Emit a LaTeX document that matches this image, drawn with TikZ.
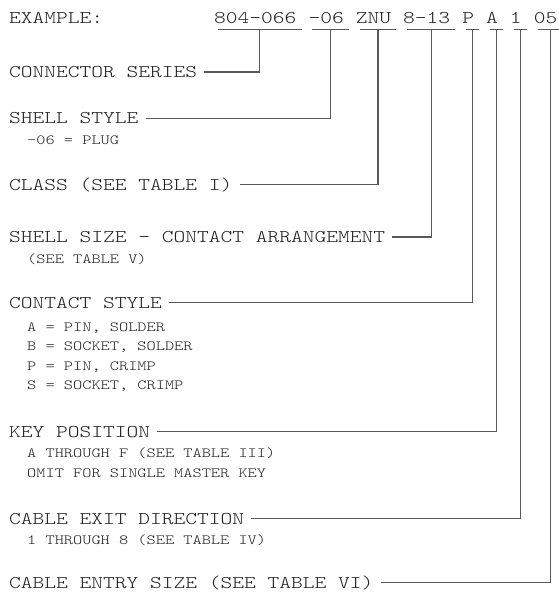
\documentclass[tikz,border=0pt]{standalone}
\usepackage{fontspec}
\newfontfamily\partfont{lmmonolt10-regular.otf}[FakeStretch=1.25]
\usetikzlibrary{positioning,calc}

\tikzset{
  partlabel/.style={anchor=west, inner sep=0pt, text height=11bp, text depth=0pt,
    text=black!88, font=\partfont\fontsize{17.9bp}{20bp}\selectfont},
  partnote/.style={partlabel, text height=8.6bp,
    font=\partfont\fontsize{14bp}{16bp}\selectfont},
  partcode/.style={partlabel},
  leader/.style={draw=black!65, line width=1.1bp},
}

\begin{document}
\begin{tikzpicture}[x=1bp, y=-1bp, node distance=11.7bp]
  \useasboundingbox (0,0) rectangle (559,592);

  % example part number
  \node[partlabel] (example) at (9,18.5) {EXAMPLE:};
  \node[partcode] (series)  at (214,18.5) {804-066};
  \node[partcode, right=of series]  (shell)   {-06};
  \node[partcode, right=of shell]   (class)   {ZNU};
  \node[partcode, right=of class]   (size)    {8-13};
  \node[partcode, right=of size]    (contact) {P};
  \node[partcode, right=of contact] (key)     {A};
  \node[partcode, right=of key]     (exit)    {1};
  \node[partcode, right=of exit]    (entry)   {05};

  \foreach \seg in {series,shell,class,size,contact,key,exit,entry}
    \draw[leader] ([xshift=4bp,yshift=-5.5bp]\seg.south west)
      -- coordinate (\seg-u) ([xshift=5bp,yshift=-5.5bp]\seg.south east);

  % fields
  \node[partlabel] (series-lab)  at (9,72)    {CONNECTOR SERIES};
  \node[partlabel] (shell-lab)   at (9,118.5) {SHELL STYLE};
  \node[partnote]  (shell-n1)    at (27,140)  {-06 = PLUG};
  \node[partlabel] (class-lab)   at (9,184.5) {CLASS (SEE TABLE I)};
  \node[partlabel] (size-lab)    at (9,237)   {SHELL SIZE - CONTACT ARRANGEMENT};
  \node[partnote]  (size-n1)     at (27,259)  {(SEE TABLE V)};
  \node[partlabel] (contact-lab) at (9,302.5) {CONTACT STYLE};
  \node[partnote]  (contact-n1)  at (27,327)  {A = PIN, SOLDER};
  \node[partnote]  (contact-n2)  at (27,346.5) {B = SOCKET, SOLDER};
  \node[partnote]  (contact-n3)  at (27,366)  {P = PIN, CRIMP};
  \node[partnote]  (contact-n4)  at (27,385.5) {S = SOCKET, CRIMP};
  \node[partlabel] (key-lab)     at (9,431.5) {KEY POSITION};
  \node[partnote]  (key-n1)      at (27,453)  {A THROUGH F (SEE TABLE III)};
  \node[partnote]  (key-n2)      at (27,473.5) {OMIT FOR SINGLE MASTER KEY};
  \node[partlabel] (exit-lab)    at (9,518.5) {CABLE EXIT DIRECTION};
  \node[partnote]  (exit-n1)     at (27,540.5) {1 THROUGH 8 (SEE TABLE IV)};
  \node[partlabel] (entry-lab)   at (9,582.5) {CABLE ENTRY SIZE (SEE TABLE VI)};

  % leaders
  \foreach \seg in {series,shell,class,size,contact,key,exit,entry}
    \draw[leader] ([xshift=7bp]\seg-lab.east) -| (\seg-u);
\end{tikzpicture}
\end{document}
